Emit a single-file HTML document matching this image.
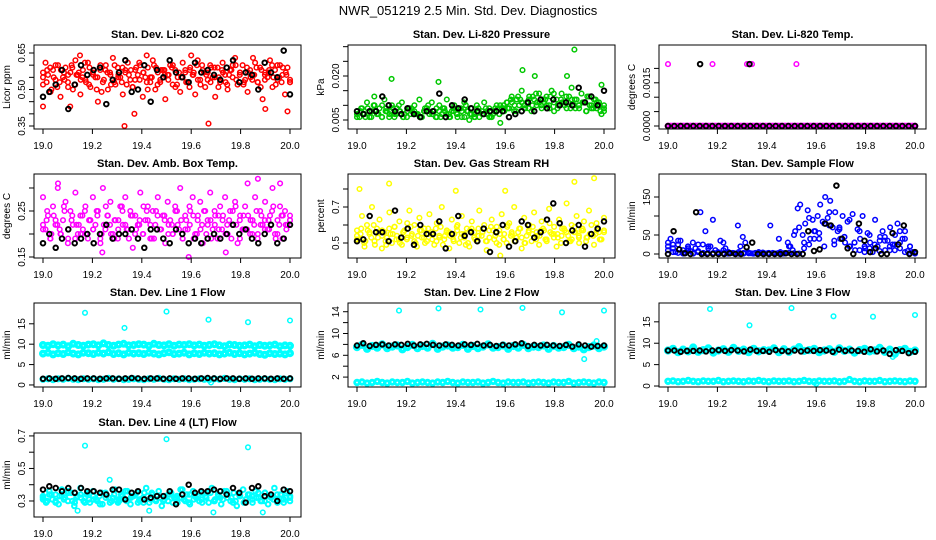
<!DOCTYPE html>
<html><head><meta charset="utf-8"><style>
html,body{margin:0;padding:0;background:#fff}
svg{display:block;font-family:"Liberation Sans",sans-serif}
</style></head><body>
<svg id="chart" width="936" height="540" viewBox="0 0 936 540" xmlns="http://www.w3.org/2000/svg">
<text x="468" y="15" text-anchor="middle" font-size="13">NWR_051219  2.5 Min. Std. Dev. Diagnostics</text>
</svg>
<script>
const xTicks=[19.0,19.2,19.4,19.6,19.8,20.0];
const xTickLabels=["19.0","19.2","19.4","19.6","19.8","20.0"];

const co2Red=[0.52,0.61,0.56,0.49,0.58,0.54,0.60,0.47,0.55,0.59,0.53,0.57,0.50,0.62,0.56,0.48,0.58,0.54,0.61,0.51,0.57,0.55,0.45,0.60,0.53,0.58,0.50,0.56,0.63,0.52,0.59,0.55,0.48,0.57,0.61,0.54,0.51,0.58,0.56,0.60,0.47,0.55,0.59,0.53,0.62,0.50,0.57,0.54,0.58,0.46,0.56,0.60,0.52,0.58,0.55,0.49,0.61,0.57,0.53,0.59,0.56,0.48,0.62,0.54,0.58,0.51,0.57,0.60,0.55,0.47,0.59,0.53,0.61,0.56,0.50,0.58,0.55,0.63,0.52,0.57,0.60,0.54,0.49,0.58,0.56,0.61,0.53,0.59,0.46,0.57,0.55,0.62,0.51,0.58,0.54,0.60,0.56,0.48,0.59,0.53];
const co2RedB=[0.55,0.58,0.50,0.60,0.53,0.57,0.51,0.59,0.56,0.54,0.61,0.52,0.58,0.55,0.49,0.60,0.57,0.53,0.56,0.59,0.52,0.58,0.54,0.61,0.57,0.50,0.55,0.59,0.53,0.58,0.56,0.60,0.52,0.55,0.58,0.51,0.57,0.54,0.60,0.56,0.53,0.59,0.55,0.57,0.52,0.58,0.60,0.56,0.53,0.57,0.54,0.59,0.51,0.56,0.58,0.55,0.60,0.53,0.57,0.54];
const co2RedC=[0.57,0.53,0.59,0.55,0.51,0.58,0.54,0.56,0.60,0.52,0.57,0.55,0.53,0.59,0.56,0.50,0.58,0.54,0.57,0.52,0.60,0.55,0.53,0.58,0.56,0.51,0.59,0.54,0.57,0.53,0.55,0.60,0.52,0.58,0.56,0.54,0.59,0.51,0.57,0.55,0.53,0.58,0.56,0.60,0.52,0.57,0.54,0.59,0.55,0.51,0.58,0.53,0.56,0.60,0.54,0.57,0.52,0.59,0.55,0.56,0.53,0.58,0.54,0.57,0.60,0.52,0.55,0.59,0.56,0.53];
const co2OutX=[19.15,19.33,19.67,19.42,19.37,19.11,19.85,19.90,19.99,19.00,19.60];
const co2OutY=[0.64,0.35,0.36,0.64,0.40,0.43,0.63,0.42,0.41,0.43,0.64];
const co2Black=[0.47,0.49,0.52,0.58,0.42,0.52,0.60,0.56,0.58,0.59,0.44,0.54,0.57,0.62,0.49,0.50,0.60,0.45,0.58,0.55,0.62,0.57,0.55,0.53,0.61,0.57,0.58,0.56,0.54,0.59,0.62,0.53,0.57,0.56,0.50,0.61,0.57,0.55,0.66,0.48];

const presGreen=[0.008,0.006,0.009,0.007,0.011,0.006,0.008,0.010,0.007,0.009,0.006,0.012,0.008,0.007,0.010,0.006,0.009,0.008,0.011,0.007,0.006,0.009,0.008,0.010,0.007,0.012,0.006,0.008,0.009,0.007,0.011,0.008,0.006,0.010,0.007,0.009,0.012,0.006,0.008,0.010,0.007,0.009,0.006,0.011,0.008,0.005,0.009,0.007,0.010,0.006,0.008,0.011,0.007,0.009,0.006,0.008,0.010,0.007,0.009,0.008,0.011,0.009,0.013,0.008,0.012,0.010,0.015,0.009,0.011,0.013,0.008,0.012,0.010,0.014,0.009,0.011,0.013,0.010,0.015,0.008,0.012,0.010,0.014,0.011,0.009,0.013,0.016,0.010,0.012,0.009,0.014,0.011,0.008,0.013,0.010,0.012,0.009,0.011,0.007,0.010];
const presGreenB=[0.007,0.009,0.006,0.008,0.010,0.007,0.006,0.009,0.008,0.007,0.010,0.006,0.008,0.009,0.007,0.006,0.008,0.010,0.007,0.009,0.006,0.008,0.007,0.009,0.006,0.008,0.010,0.007,0.006,0.009,0.007,0.008,0.006,0.009,0.007,0.010,0.009,0.011,0.008,0.012,0.010,0.009,0.013,0.011,0.010,0.012,0.009,0.014,0.010,0.011,0.013,0.009,0.012,0.010,0.011,0.013,0.009,0.012,0.010,0.008];
const presGreenC=[0.006,0.008,0.007,0.009,0.006,0.008,0.007,0.010,0.008,0.006,0.009,0.007,0.008,0.006,0.009,0.007,0.008,0.007,0.006,0.009,0.008,0.007,0.006,0.008,0.009,0.007,0.006,0.008,0.007,0.009,0.006,0.008,0.007,0.006,0.008,0.007,0.009,0.006,0.007,0.008,0.010,0.009,0.011,0.012,0.010,0.013,0.011,0.009,0.012,0.010,0.014,0.011,0.012,0.010,0.013,0.011,0.009,0.012,0.010,0.011,0.012,0.009,0.010,0.011,0.008,0.010,0.009,0.011,0.008,0.009];
const presOutX=[19.14,19.33,19.67,19.72,19.85,19.88,19.99,19.58,19.07];
const presOutY=[0.019,0.018,0.022,0.020,0.020,0.029,0.017,0.004,0.013];
const presBlack=[0.008,0.007,0.008,0.008,0.013,0.010,0.008,0.007,0.009,0.007,0.006,0.008,0.008,0.014,0.006,0.010,0.009,0.012,0.009,0.008,0.007,0.008,0.008,0.008,0.006,0.007,0.008,0.011,0.008,0.012,0.009,0.012,0.010,0.011,0.010,0.016,0.011,0.013,0.010,0.015];

const tempMag=[0,0,0,0,0,0,0,0,0,0,0,0,0,0,0,0,0,0,0,0,0,0,0,0,0,0,0,0,0,0,0,0,0,0,0,0,0,0,0,0,0,0,0,0,0,0,0,0,0,0,0,0,0,0,0,0,0,0,0,0,0,0,0,0,0,0,0,0,0,0,0,0,0,0,0,0,0,0,0,0,0,0,0,0,0,0,0,0,0,0,0,0,0,0,0,0,0,0,0,0];
const tempOutX=[19.0,19.18,19.32,19.33,19.34,19.52];
const tempOutY=[0.00215,0.00215,0.00215,0.00215,0.00215,0.00215];
const tempBlack=[0,0,0,0,0,0,0,0,0,0,0,0,0,0,0,0,0,0,0,0,0,0,0,0,0,0,0,0,0,0,0,0,0,0,0,0,0,0,0,0];
const tempBlackOutX=[19.13,19.33];
const tempBlackOutY=[0.00215,0.00215];

const ambMag=[0.28,0.21,0.24,0.19,0.26,0.22,0.31,0.20,0.23,0.27,0.18,0.25,0.22,0.29,0.20,0.24,0.21,0.26,0.19,0.23,0.28,0.22,0.25,0.18,0.30,0.21,0.24,0.27,0.20,0.23,0.19,0.26,0.22,0.28,0.21,0.25,0.17,0.24,0.22,0.29,0.20,0.23,0.26,0.19,0.25,0.22,0.28,0.21,0.24,0.18,0.27,0.23,0.20,0.26,0.22,0.30,0.19,0.24,0.21,0.25,0.28,0.20,0.23,0.27,0.18,0.25,0.22,0.29,0.21,0.24,0.19,0.26,0.23,0.28,0.20,0.25,0.22,0.27,0.18,0.24,0.21,0.26,0.31,0.20,0.23,0.28,0.19,0.25,0.22,0.27,0.21,0.24,0.30,0.20,0.23,0.26,0.19,0.25,0.22,0.24];
const ambMagB=[0.22,0.25,0.20,0.23,0.21,0.26,0.19,0.24,0.22,0.20,0.25,0.23,0.21,0.24,0.20,0.26,0.22,0.19,0.23,0.25,0.21,0.24,0.20,0.22,0.26,0.23,0.19,0.25,0.21,0.24,0.22,0.20,0.25,0.23,0.21,0.26,0.19,0.24,0.22,0.20,0.23,0.25,0.21,0.24,0.22,0.19,0.26,0.23,0.21,0.24,0.20,0.25,0.22,0.23,0.21,0.26,0.20,0.24,0.22,0.23];
const ambMagC=[0.21,0.23,0.19,0.24,0.22,0.20,0.25,0.21,0.23,0.19,0.22,0.24,0.20,0.23,0.21,0.25,0.19,0.22,0.24,0.20,0.23,0.21,0.26,0.22,0.19,0.24,0.21,0.23,0.20,0.25,0.22,0.19,0.24,0.21,0.23,0.20,0.22,0.25,0.21,0.19,0.23,0.22,0.24,0.20,0.21,0.25,0.23,0.19,0.22,0.24,0.21,0.20,0.23,0.25,0.22,0.19,0.24,0.21,0.23,0.22,0.20,0.24,0.21,0.23,0.25,0.19,0.22,0.24,0.21,0.23];
const ambOutX=[19.87,19.96,19.06,19.59,19.74,19.24];
const ambOutY=[0.32,0.31,0.30,0.15,0.16,0.16];
const ambBlack=[0.18,0.20,0.17,0.19,0.21,0.18,0.19,0.20,0.18,0.20,0.22,0.19,0.20,0.20,0.21,0.19,0.17,0.21,0.21,0.19,0.18,0.21,0.20,0.18,0.19,0.18,0.19,0.20,0.19,0.20,0.22,0.20,0.21,0.19,0.18,0.20,0.22,0.18,0.19,0.22];

const rhYellow=[0.57,0.52,0.65,0.48,0.60,0.55,0.70,0.51,0.58,0.63,0.47,0.56,0.53,0.67,0.50,0.59,0.54,0.62,0.49,0.57,0.52,0.68,0.55,0.60,0.48,0.64,0.53,0.58,0.51,0.66,0.56,0.49,0.61,0.54,0.70,0.52,0.57,0.47,0.63,0.55,0.59,0.50,0.65,0.53,0.58,0.48,0.62,0.56,0.51,0.68,0.54,0.60,0.46,0.57,0.63,0.52,0.59,0.49,0.66,0.55,0.50,0.61,0.56,0.70,0.53,0.58,0.47,0.64,0.54,0.60,0.51,0.67,0.56,0.49,0.62,0.57,0.52,0.69,0.55,0.59,0.48,0.63,0.54,0.58,0.72,0.51,0.60,0.56,0.65,0.50,0.57,0.62,0.53,0.68,0.55,0.49,0.61,0.56,0.52,0.64];
const rhYellowB=[0.54,0.58,0.51,0.56,0.60,0.53,0.57,0.49,0.55,0.59,0.52,0.56,0.61,0.54,0.50,0.57,0.53,0.58,0.55,0.51,0.59,0.54,0.56,0.52,0.60,0.55,0.49,0.57,0.53,0.58,0.56,0.51,0.59,0.54,0.57,0.52,0.60,0.55,0.53,0.58,0.50,0.56,0.59,0.54,0.57,0.52,0.61,0.55,0.53,0.58,0.56,0.51,0.59,0.54,0.57,0.53,0.60,0.55,0.52,0.57];
const rhYellowC=[0.52,0.55,0.50,0.57,0.53,0.49,0.56,0.54,0.51,0.58,0.55,0.52,0.50,0.56,0.53,0.59,0.51,0.54,0.57,0.50,0.55,0.52,0.58,0.53,0.49,0.56,0.54,0.51,0.57,0.53,0.55,0.50,0.58,0.52,0.54,0.56,0.51,0.53,0.57,0.50,0.55,0.52,0.59,0.54,0.51,0.56,0.53,0.50,0.57,0.55,0.52,0.54,0.58,0.51,0.56,0.53,0.55,0.50,0.57,0.54,0.52,0.56,0.53,0.58,0.51,0.55,0.54,0.57,0.52,0.56];
const rhOutX=[19.01,19.13,19.40,19.60,19.88,19.96,19.58];
const rhOutY=[0.80,0.83,0.79,0.79,0.84,0.86,0.43];
const rhBlack=[0.51,0.52,0.65,0.56,0.56,0.51,0.68,0.53,0.58,0.49,0.60,0.55,0.55,0.62,0.47,0.55,0.65,0.54,0.56,0.51,0.58,0.45,0.56,0.60,0.48,0.51,0.62,0.60,0.53,0.56,0.63,0.72,0.61,0.50,0.57,0.60,0.48,0.55,0.58,0.62];

const flowBlue=[30,40,15,5,25,35,10,2,20,8,30,15,5,110,25,60,3,20,90,10,5,35,2,15,1,2,3,1,75,20,45,30,5,2,1,3,1,2,4,1,2,75,3,1,2,5,1,2,30,20,10,60,120,130,50,80,115,40,90,60,100,130,85,150,95,140,70,110,60,40,100,30,85,20,105,10,65,40,100,15,55,30,5,90,20,45,60,10,35,70,25,50,80,15,40,60,8,20,5,3];
const flowBlueB=[20,5,35,2,10,1,25,3,15,2,1,30,5,2,1,3,2,1,5,2,3,1,40,2,20,50,70,30,95,60,40,80,110,25,70,45,90,30,60,20,50,15,35,45,10,25,60,40,20,5];
const flowBlueC=[10,25,3,1,15,2,8,1,20,3,2,10,1,2,5,1,2,1,3,1,2,1,2,1,3,2,1,15,25,40,55,20,75,35,65,45,20,30,10,5,15,25,8,35,20,10,30,5,2,1];
const flowBlack=[0,60,12,2,0,110,0,0,0,0,0,2,0,0,18,30,0,0,0,0,0,2,0,0,0,60,8,12,80,75,180,40,15,0,80,35,5,15,0,0,55,25,75,0,5];

const l1High=[9.8,9.6,10.0,9.7,9.9,9.5,10.1,9.8,9.6,9.9,10.0,9.7,10.2,9.8,9.6,9.9,10.1,9.7,9.8,10.0,9.9,9.6,10.1,9.8,9.7,10.0,9.6,9.9,9.8,10.0,9.7,9.9,9.6,9.8,10.0,9.7,9.5,9.9,9.8,9.6,9.7,9.9,9.5,9.8,9.6,9.7,9.9,9.5,9.7,9.6];
const l1Mid=[7.7,7.9,7.5,7.8,7.6,8.0,7.7,7.5,7.9,7.8,7.6,7.9,7.7,8.0,7.6,7.8,7.5,7.9,7.7,7.8,7.6,7.9,7.7,7.5,7.8,8.0,7.6,7.7,7.9,7.5,7.8,7.6,7.9,7.7,7.8,7.5,7.7,7.9,7.6,7.8,7.5,7.7,7.9,7.6,7.4,7.8,7.6,7.7,7.5,7.8];
const l1Low=[1.4,1.5,1.3,1.5,1.4,1.6,1.4,1.3,1.5,1.4,1.5,1.3,1.4,1.6,1.4,1.5,1.3,1.4,1.5,1.4,1.3,1.5,1.4,1.6,1.4,1.3,1.5,1.4,1.5,1.3,1.4,1.5,1.4,1.3,1.5,1.4,1.6,1.4,1.3,1.5,1.4,1.5,1.3,1.4,1.5,1.4,1.3,1.5,1.4,1.5];
const l1OutX=[19.17,19.33,19.5,19.67,19.83,20.0,19.68];
const l1OutY=[17.7,14.0,18.0,16.0,15.4,15.8,0.6];
const l1Black=[1.5,1.6,1.5,1.6,1.7,1.6,1.5,1.6,1.6,1.5,1.6,1.6,1.5,1.6,1.7,1.6,1.5,1.6,1.6,1.5,1.6,1.5,1.6,1.6,1.5,1.6,1.7,1.6,1.5,1.6,1.6,1.5,1.6,1.5,1.6,1.6,1.5,1.6,1.5,1.6];

const l2High=[7.5,7.9,7.2,7.7,7.4,8.0,7.3,7.6,7.8,7.1,7.5,7.9,7.3,7.7,7.4,8.1,7.2,7.6,7.8,7.4,7.5,7.9,7.2,7.7,7.3,7.6,8.0,7.4,7.5,7.8,7.2,7.7,7.4,7.9,7.3,7.6,7.5,7.8,7.2,7.7,7.4,7.5,7.9,7.3,7.6,7.1,7.5,7.8,7.3,7.6];
const l2Low=[1.0,1.1,0.9,1.0,1.2,1.0,0.9,1.1,1.0,1.0,1.2,0.9,1.0,1.1,1.0,0.9,1.1,1.0,1.2,1.0,0.9,1.1,1.0,1.0,1.1,0.9,1.0,1.2,1.0,0.9,1.1,1.0,1.0,1.1,0.9,1.0,1.1,1.0,0.9,1.1,1.0,1.0,1.2,0.9,1.0,1.1,1.0,0.9,1.1,1.0];
const l2OutX=[19.17,19.33,19.5,19.67,19.83,20.0,19.92,19.97];
const l2OutY=[14.2,14.6,14.4,14.7,13.9,14.2,5.3,8.6];
const l2Black=[7.8,8.2,7.7,7.9,8.0,7.8,8.0,7.9,8.1,7.8,8.0,8.1,7.9,7.8,8.0,7.9,7.8,8.0,7.9,8.1,7.8,7.9,7.7,7.9,7.8,8.0,8.2,7.7,7.9,7.8,7.9,7.8,7.7,7.9,7.6,8.0,7.8,7.6,7.7,7.8];

const l3High=[8.3,8.7,7.9,8.5,8.1,9.0,8.0,8.4,8.8,7.8,8.3,8.6,8.0,8.9,8.2,8.5,7.9,8.7,8.1,8.4,8.3,8.8,7.9,8.6,8.0,8.5,9.1,8.2,8.4,8.7,7.9,8.3,8.6,8.0,8.8,8.2,8.5,7.8,8.4,8.7,8.1,8.3,8.9,8.0,8.5,7.5,8.4,8.7,8.0,8.3];
const l3Low=[1.1,1.2,1.0,1.1,1.3,1.1,1.0,1.2,1.1,1.1,1.3,1.0,1.1,1.2,1.1,1.0,1.2,1.1,1.3,1.1,1.0,1.2,1.1,1.1,1.2,1.0,1.1,1.3,1.1,1.0,1.2,1.1,1.1,1.2,1.0,1.1,1.5,1.1,1.0,1.2,1.1,1.1,1.3,1.0,1.1,1.2,1.1,1.0,1.2,1.1];
const l3OutX=[19.17,19.33,19.5,19.67,19.83,20.0,19.91,19.60];
const l3OutY=[18.0,14.2,18.2,16.3,16.2,16.6,6.8,0.5];
const l3Black=[8.3,8.3,8.0,8.2,8.2,8.3,8.1,8.3,8.4,8.2,8.4,8.3,8.1,8.5,8.2,8.2,8.0,8.4,8.2,8.1,8.3,8.1,8.3,8.2,8.4,8.3,8.0,8.5,8.2,8.3,8.2,8.0,8.6,8.1,8.3,7.5,8.4,8.2,7.7,8.0];

const l4Cyan=[0.33,0.29,0.36,0.31,0.34,0.28,0.37,0.32,0.30,0.35,0.27,0.33,0.38,0.30,0.34,0.29,0.36,0.31,0.33,0.28,0.35,0.32,0.30,0.37,0.29,0.34,0.31,0.36,0.28,0.33,0.35,0.30,0.32,0.38,0.29,0.34,0.31,0.36,0.27,0.33,0.30,0.35,0.32,0.29,0.37,0.31,0.34,0.28,0.36,0.32,0.30,0.35,0.33,0.29,0.38,0.31,0.34,0.28,0.36,0.32,0.30,0.35,0.27,0.33,0.37,0.31,0.34,0.29,0.36,0.32,0.30,0.35,0.28,0.33,0.38,0.31,0.34,0.29,0.36,0.32];
const l4CyanB=[0.31,0.34,0.30,0.33,0.36,0.29,0.32,0.35,0.31,0.28,0.34,0.32,0.30,0.36,0.33,0.29,0.35,0.31,0.33,0.30,0.34,0.32,0.37,0.29,0.33,0.31,0.35,0.30,0.32,0.36,0.29,0.34,0.31,0.33,0.35,0.30,0.32,0.34,0.31,0.33];
const l4CyanC=[0.32,0.30,0.34,0.29,0.33,0.31,0.35,0.30,0.32,0.34,0.29,0.31,0.33,0.30,0.35,0.32,0.29,0.34,0.31,0.33,0.30,0.32,0.34,0.31,0.29,0.33,0.35,0.30,0.32,0.31,0.34,0.29,0.33,0.32,0.30,0.34,0.31,0.33,0.29,0.32,0.35,0.30,0.33,0.31,0.34,0.32,0.30,0.33,0.29,0.34,0.31,0.32,0.30,0.35,0.33,0.31,0.29,0.34,0.32,0.30];
const l4OutX=[19.17,19.5,19.83,19.27,19.14,19.43,19.69,19.89];
const l4OutY=[0.64,0.68,0.63,0.43,0.24,0.24,0.23,0.23];
const l4Black=[0.37,0.39,0.38,0.36,0.38,0.35,0.38,0.36,0.36,0.35,0.34,0.37,0.37,0.31,0.35,0.36,0.31,0.32,0.33,0.33,0.36,0.28,0.34,0.40,0.35,0.36,0.36,0.37,0.36,0.34,0.38,0.35,0.29,0.38,0.39,0.33,0.34,0.30,0.37,0.36];

const svg=document.getElementById('chart');
const NS='http://www.w3.org/2000/svg';
function mk(tag,attrs){const e=document.createElementNS(NS,tag);for(const k in attrs)e.setAttribute(k,attrs[k]);svg.appendChild(e);return e;}
const colX0=[43,357,668];
const rowTop=[45,174,303,433];
const BOXH=84;

function panel(col,row,title,ylab,lo,hi,yTicks,yLabels,series,key){
  const x0=colX0[col],bl=x0-9,bw=267,top=rowTop[row],bot=top+BOXH;
  const sx=v=>x0+(v-19)*247;
  const sy=v=>bot-(v-lo)/(hi-lo)*BOXH;
  const t=mk('text',{x:bl+bw/2,y:top-7,'text-anchor':'middle','font-size':'11','font-weight':'bold'});
  t.textContent=title;
  
  
  const cy=(top+bot)/2;
  const yl=mk('text',{x:0,y:0,transform:'translate('+(bl-24)+','+cy+') rotate(-90)','text-anchor':'middle','font-size':'10'});
  yl.textContent=ylab;
  
  
  const g=mk('g',{});
  
  
  series.forEach(s=>{
    const n=s.y.length;
    for(let i=0;i<n;i++){
      const xv=s.x?s.x[i]:19+i/(n-1);
      const c=document.createElementNS(NS,'circle');
      c.setAttribute('cx',sx(xv).toFixed(1));c.setAttribute('cy',sy(s.y[i]).toFixed(1));
      c.setAttribute('r',s.r||2.3);c.setAttribute('fill','none');c.setAttribute('stroke',s.c);c.setAttribute('stroke-width',s.w||1.5);
      
      
      g.appendChild(c);
    }
  });
  const box=mk('rect',{x:bl,y:top,width:bw,height:BOXH,fill:'none',stroke:'#000','stroke-width':1});
  
  
  yTicks.forEach((v,i)=>{
    const y=sy(v);
    const tk=mk('line',{x1:bl,x2:bl-5,y1:y,y2:y,stroke:'#000'});
    
    
    if(yLabels[i]){
      const l=mk('text',{x:0,y:0,transform:'translate('+(bl-9)+','+y+') rotate(-90)','text-anchor':'middle','font-size':'10'});
      l.textContent=yLabels[i];
      
      
    }
  });
  const ax=mk('line',{x1:sx(19),x2:sx(20),y1:bot,y2:bot,stroke:'#000'});
  
  
  xTicks.forEach((v,i)=>{
    const x=sx(v);
    const tk=mk('line',{x1:x,x2:x,y1:bot,y2:bot+5,stroke:'#000'});
    
    
    const l=mk('text',{x:x,y:bot+20,'text-anchor':'middle','font-size':'10'});
    l.textContent=xTickLabels[i];
    
    
  });
}
const K='#000',BW=1.9;
panel(0,0,'Stan. Dev. Li-820 CO2','Licor ppm',0.3377,0.6829,[0.35,0.40,0.45,0.50,0.55,0.60,0.65],['0.35','','','0.50','','','0.65'],
 [{y:co2Red,c:'#ff0000'},{y:co2RedB,c:'#ff0000'},{y:co2RedC,c:'#ff0000'},{x:co2OutX,y:co2OutY,c:'#ff0000'},{y:co2Black,c:K,w:BW}],'co2');
panel(1,0,'Stan. Dev. Li-820 Pressure','kPa',0.00193,0.03057,[0.005,0.010,0.015,0.020,0.025,0.030],['0.005','','','0.020','',''],
 [{y:presGreen,c:'#00c800'},{y:presGreenB,c:'#00c800'},{y:presGreenC,c:'#00c800'},{x:presOutX,y:presOutY,c:'#00c800'},{y:presBlack,c:K,w:BW}],'pressure');
panel(2,0,'Stan. Dev. Li-820 Temp.','degrees C',-0.000104,0.0028125,[0,0.0005,0.001,0.0015,0.002],['0.0000','','','0.0015',''],
 [{y:tempMag,c:'#ff00ff',w:2.2},{x:tempOutX,y:tempOutY,c:'#ff00ff'},{y:tempBlack,c:K,w:BW},{x:tempBlackOutX,y:tempBlackOutY,c:K,w:BW}],'li820-temp');
panel(0,1,'Stan. Dev. Amb. Box Temp.','degrees C',0.1478,0.3304,[0.15,0.20,0.25,0.30],['0.15','','0.25',''],
 [{y:ambMag,c:'#ff00ff'},{y:ambMagB,c:'#ff00ff'},{y:ambMagC,c:'#ff00ff'},{x:ambOutX,y:ambOutY,c:'#ff00ff'},{y:ambBlack,c:K,w:BW}],'amb-temp');
panel(1,1,'Stan. Dev. Gas Stream RH','percent',0.4167,0.8833,[0.5,0.6,0.7,0.8],['0.5','','0.7',''],
 [{y:rhYellow,c:'#ffff00'},{y:rhYellowB,c:'#ffff00'},{y:rhYellowC,c:'#ffff00'},{x:rhOutX,y:rhOutY,c:'#ffff00'},{y:rhBlack,c:K,w:BW}],'rh');
panel(2,1,'Stan. Dev. Sample Flow','ml/min',-10.5,210.5,[0,50,100,150],['0','50','','150'],
 [{y:flowBlue,c:'#0000ff'},{y:flowBlueB,c:'#0000ff'},{y:flowBlueC,c:'#0000ff'},{y:flowBlack,c:K,w:BW}],'sample-flow');
panel(0,2,'Stan. Dev. Line 1 Flow','ml/min',-0.5,20.1,[0,5,10,15],['0','5','10','15'],
 [{y:l1High,c:'#00ffff',w:3.4},{y:l1Mid,c:'#00ffff',w:3.4},{y:l1Low,c:'#00ffff',w:2.6},{x:l1OutX,y:l1OutY,c:'#00ffff'},{y:l1Black,c:K,w:BW}],'line1-flow');
panel(1,2,'Stan. Dev. Line 2 Flow','ml/min',0.18,15.6,[2,4,6,8,10,12,14],['2','','6','','10','','14'],
 [{y:l2High,c:'#00ffff',w:3.6},{y:l2Low,c:'#00ffff',w:2.8},{x:l2OutX,y:l2OutY,c:'#00ffff'},{y:l2Black,c:K,w:BW}],'line2-flow');
panel(2,2,'Stan. Dev. Line 3 Flow','ml/min',-0.23,19.4,[0,5,10,15],['0','5','10','15'],
 [{y:l3High,c:'#00ffff',w:3.6},{y:l3Low,c:'#00ffff',w:2.8},{x:l3OutX,y:l3OutY,c:'#00ffff'},{y:l3Black,c:K,w:BW}],'line3-flow');
panel(0,3,'Stan. Dev. Line 4 (LT) Flow','ml/min',0.2015,0.718,[0.3,0.4,0.5,0.6,0.7],['0.3','','0.5','','0.7'],
 [{y:l4Cyan,c:'#00ffff',w:2.0},{y:l4CyanB,c:'#00ffff',w:2.0},{y:l4CyanC,c:'#00ffff',w:2.0},{x:l4OutX,y:l4OutY,c:'#00ffff'},{y:l4Black,c:K,w:BW}],'line4-flow');
</script>
</body></html>
